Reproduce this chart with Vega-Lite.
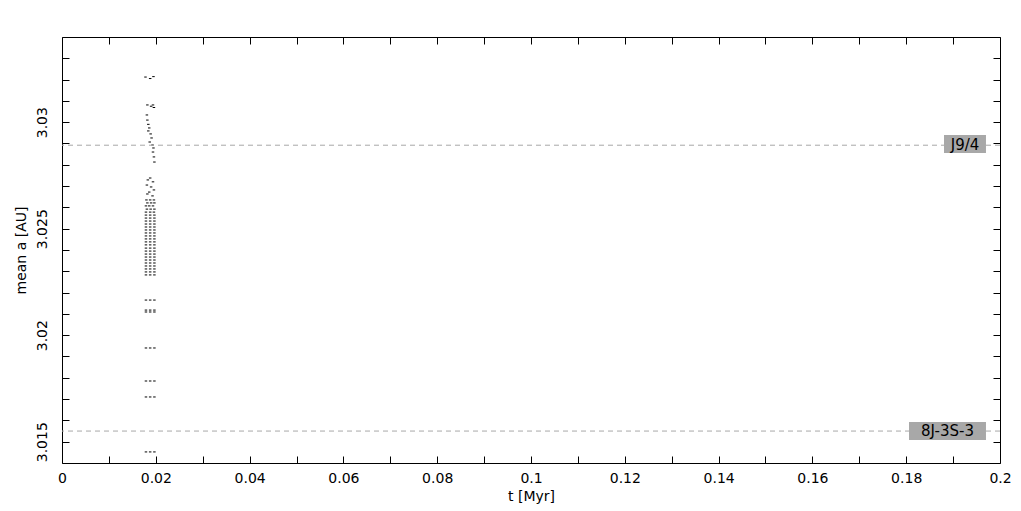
{
  "$schema": "https://vega.github.io/schema/vega-lite/v6.json",
  "width": 938,
  "height": 426,
  "autosize": "none",
  "padding": {"left": 62, "top": 37, "right": 21, "bottom": 48},
  "background": "white",
  "config": {
    "view": {"stroke": "black", "strokeWidth": 1},
    "axis": {
      "grid": false,
      "domainColor": "black",
      "tickColor": "black",
      "labelColor": "black",
      "titleColor": "black",
      "labelFont": "DejaVu Sans",
      "titleFont": "DejaVu Sans",
      "labelFontSize": 14,
      "titleFontSize": 14,
      "titleFontWeight": "normal"
    }
  },
  "datasets": {
    "pts": [
      {"t": 0.0178, "a": 3.03212}, {"t": 0.0188, "a": 3.03205}, {"t": 0.0195, "a": 3.03214},
      {"t": 0.0182, "a": 3.03081}, {"t": 0.0190, "a": 3.03075}, {"t": 0.0196, "a": 3.03069}, {"t": 0.0194, "a": 3.03081},
      {"t": 0.0181, "a": 3.03034}, {"t": 0.0182, "a": 3.0301}, {"t": 0.0184, "a": 3.0299}, {"t": 0.0186, "a": 3.02973},
      {"t": 0.0184, "a": 3.02959}, {"t": 0.0189, "a": 3.02945}, {"t": 0.0191, "a": 3.02926}, {"t": 0.0187, "a": 3.02907},
      {"t": 0.0193, "a": 3.02893}, {"t": 0.0195, "a": 3.02879}, {"t": 0.0194, "a": 3.0286}, {"t": 0.0196, "a": 3.02837},
      {"t": 0.0197, "a": 3.02813},
      {"t": 0.0188, "a": 3.02738}, {"t": 0.0183, "a": 3.02729}, {"t": 0.0194, "a": 3.0272}, {"t": 0.0181, "a": 3.02705},
      {"t": 0.0190, "a": 3.02696}, {"t": 0.0196, "a": 3.02682}, {"t": 0.0186, "a": 3.02672}, {"t": 0.0182, "a": 3.02663},
      {"t": 0.0193, "a": 3.02654},
      {"t": 0.0180, "a": 3.02635}, {"t": 0.0188, "a": 3.02635}, {"t": 0.0196, "a": 3.02635},
      {"t": 0.0182, "a": 3.02621}, {"t": 0.0190, "a": 3.02621}, {"t": 0.0197, "a": 3.02621},
      {"t": 0.0179, "a": 3.02607}, {"t": 0.0186, "a": 3.02607}, {"t": 0.0194, "a": 3.02607},
      {"t": 0.0181, "a": 3.02592}, {"t": 0.0189, "a": 3.02592}, {"t": 0.0197, "a": 3.02592},
      {"t": 0.0179, "a": 3.02578}, {"t": 0.0188, "a": 3.02578}, {"t": 0.0196, "a": 3.02578},
      {"t": 0.0179, "a": 3.02564}, {"t": 0.0188, "a": 3.02564}, {"t": 0.0197, "a": 3.02564},
      {"t": 0.0179, "a": 3.0255}, {"t": 0.0188, "a": 3.0255}, {"t": 0.0197, "a": 3.0255},
      {"t": 0.0179, "a": 3.02536}, {"t": 0.0188, "a": 3.02536}, {"t": 0.0197, "a": 3.02536},
      {"t": 0.0179, "a": 3.02522}, {"t": 0.0188, "a": 3.02522}, {"t": 0.0197, "a": 3.02522},
      {"t": 0.0179, "a": 3.02508}, {"t": 0.0188, "a": 3.02508}, {"t": 0.0197, "a": 3.02508},
      {"t": 0.0179, "a": 3.02494}, {"t": 0.0188, "a": 3.02494}, {"t": 0.0197, "a": 3.02494},
      {"t": 0.0179, "a": 3.0248}, {"t": 0.0188, "a": 3.0248}, {"t": 0.0197, "a": 3.0248},
      {"t": 0.0179, "a": 3.02466}, {"t": 0.0188, "a": 3.02466}, {"t": 0.0197, "a": 3.02466},
      {"t": 0.0179, "a": 3.02452}, {"t": 0.0188, "a": 3.02452}, {"t": 0.0197, "a": 3.02452},
      {"t": 0.0179, "a": 3.02438}, {"t": 0.0188, "a": 3.02438}, {"t": 0.0197, "a": 3.02438},
      {"t": 0.0179, "a": 3.02424}, {"t": 0.0188, "a": 3.02424}, {"t": 0.0197, "a": 3.02424},
      {"t": 0.0179, "a": 3.02409}, {"t": 0.0188, "a": 3.02409}, {"t": 0.0197, "a": 3.02409},
      {"t": 0.0179, "a": 3.02395}, {"t": 0.0188, "a": 3.02395}, {"t": 0.0197, "a": 3.02395},
      {"t": 0.0179, "a": 3.02381}, {"t": 0.0188, "a": 3.02381}, {"t": 0.0197, "a": 3.02381},
      {"t": 0.0179, "a": 3.02367}, {"t": 0.0188, "a": 3.02367}, {"t": 0.0197, "a": 3.02367},
      {"t": 0.0179, "a": 3.02353}, {"t": 0.0188, "a": 3.02353}, {"t": 0.0197, "a": 3.02353},
      {"t": 0.0179, "a": 3.02339}, {"t": 0.0188, "a": 3.02339}, {"t": 0.0197, "a": 3.02339},
      {"t": 0.0179, "a": 3.02325}, {"t": 0.0188, "a": 3.02325}, {"t": 0.0197, "a": 3.02325},
      {"t": 0.0179, "a": 3.02311}, {"t": 0.0188, "a": 3.02311}, {"t": 0.0197, "a": 3.02311},
      {"t": 0.0179, "a": 3.02297}, {"t": 0.0188, "a": 3.02297}, {"t": 0.0197, "a": 3.02297},
      {"t": 0.0179, "a": 3.02283}, {"t": 0.0188, "a": 3.02283}, {"t": 0.0197, "a": 3.02283},
      {"t": 0.0179, "a": 3.02165}, {"t": 0.0188, "a": 3.02165}, {"t": 0.0197, "a": 3.02165},
      {"t": 0.0179, "a": 3.02118}, {"t": 0.0188, "a": 3.02118}, {"t": 0.0197, "a": 3.02118},
      {"t": 0.0179, "a": 3.02109}, {"t": 0.0188, "a": 3.02109}, {"t": 0.0197, "a": 3.02109},
      {"t": 0.0179, "a": 3.0194}, {"t": 0.0188, "a": 3.0194}, {"t": 0.0197, "a": 3.0194},
      {"t": 0.0179, "a": 3.01785}, {"t": 0.0188, "a": 3.01785}, {"t": 0.0197, "a": 3.01785},
      {"t": 0.0179, "a": 3.0171}, {"t": 0.0188, "a": 3.0171}, {"t": 0.0197, "a": 3.0171},
      {"t": 0.0179, "a": 3.01452}, {"t": 0.0188, "a": 3.01452}, {"t": 0.0197, "a": 3.01452}
    ],
    "res": [
      {"name": "J9/4", "a": 3.02892, "t": 0.19254, "t1": 0.18806, "t2": 0.19701, "a1": 3.02855, "a2": 3.0294},
      {"name": "8J-3S-3", "a": 3.0155, "t": 0.18881, "t1": 0.1806, "t2": 0.19701, "a1": 3.01508, "a2": 3.01592}
    ]
  },
  "layer": [
    {
      "data": {"name": "pts"},
      "mark": {"type": "tick", "orient": "horizontal", "size": 2.5, "thickness": 1, "color": "black", "opacity": 1},
      "encoding": {
        "x": {
          "field": "t", "type": "quantitative",
          "scale": {"domain": [0, 0.2], "nice": false, "zero": false},
          "axis": {
            "orient": "bottom", "title": "t [Myr]",
            "values": [0, 0.01, 0.02, 0.03, 0.04, 0.05, 0.06, 0.07, 0.08, 0.09, 0.1, 0.11, 0.12, 0.13, 0.14, 0.15, 0.16, 0.17, 0.18, 0.19, 0.2],
            "labelExpr": "abs(datum.value*50 - round(datum.value*50)) < 0.001 ? format(datum.value, '~g') : ''",
            "tickSize": -7, "labelPadding": 15, "titlePadding": 4, "labelFlush": false, "labelOverlap": false, "domain": false
          }
        },
        "y": {
          "field": "a", "type": "quantitative",
          "scale": {"domain": [3.014, 3.034], "nice": false, "zero": false},
          "axis": {
            "orient": "left", "title": "mean a [AU]",
            "values": [3.015, 3.016, 3.017, 3.018, 3.019, 3.02, 3.021, 3.022, 3.023, 3.024, 3.025, 3.026, 3.027, 3.028, 3.029, 3.03, 3.031, 3.032, 3.033],
            "labelExpr": "abs(datum.value*200 - round(datum.value*200)) < 0.001 ? format(datum.value, '~g') : ''",
            "labelAngle": -90, "tickSize": -7, "labelPadding": 20, "titlePadding": 7, "labelFlush": false, "labelOverlap": false, "domain": false
          }
        }
      }
    },
    {
      "data": {"name": "res"},
      "mark": {"type": "rule", "color": "#a8a8a8", "strokeDash": [5, 4], "strokeWidth": 1},
      "encoding": {
        "y": {
          "field": "a", "type": "quantitative",
          "scale": {"domain": [3.014, 3.034], "nice": false, "zero": false},
          "axis": {
            "orient": "right", "title": null, "labels": false, "domain": false,
            "values": [3.015, 3.016, 3.017, 3.018, 3.019, 3.02, 3.021, 3.022, 3.023, 3.024, 3.025, 3.026, 3.027, 3.028, 3.029, 3.03, 3.031, 3.032, 3.033],
            "tickSize": -7
          }
        }
      }
    },
    {
      "data": {"name": "res"},
      "mark": {"type": "rect", "color": "#a8a8a8"},
      "encoding": {
        "x": {
          "field": "t1", "type": "quantitative",
          "scale": {"domain": [0, 0.2], "nice": false, "zero": false},
          "axis": {
            "orient": "top", "title": null, "labels": false, "domain": false,
            "values": [0, 0.01, 0.02, 0.03, 0.04, 0.05, 0.06, 0.07, 0.08, 0.09, 0.1, 0.11, 0.12, 0.13, 0.14, 0.15, 0.16, 0.17, 0.18, 0.19, 0.2],
            "tickSize": -7
          }
        },
        "x2": {"field": "t2"},
        "y": {"field": "a1", "type": "quantitative", "axis": null},
        "y2": {"field": "a2"}
      }
    },
    {
      "data": {"name": "res"},
      "mark": {"type": "text", "font": "DejaVu Sans", "fontSize": 15, "color": "black", "align": "center", "baseline": "middle"},
      "encoding": {
        "x": {"field": "t", "type": "quantitative", "axis": null},
        "y": {"field": "a", "type": "quantitative", "axis": null},
        "text": {"field": "name"}
      }
    }
  ],
  "resolve": {"axis": {"x": "independent", "y": "independent"}}
}
